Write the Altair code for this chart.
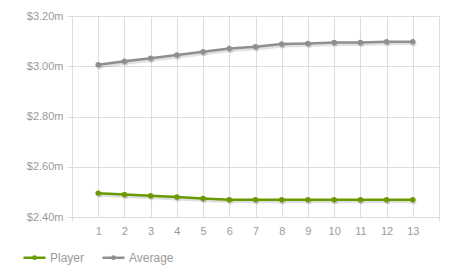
import altair as alt
import pandas as pd

rounds = list(range(1, 14))
player = [2.495, 2.490, 2.485, 2.480, 2.474, 2.469, 2.469, 2.469, 2.469, 2.469, 2.469, 2.469, 2.469]
average = [3.006, 3.020, 3.032, 3.045, 3.058, 3.071, 3.078, 3.089, 3.091, 3.095, 3.095, 3.098, 3.098]
series_names = ["Player", "Average"]
series_colors = ["#6a9a00", "#8f8f8f"]
x_ticks = list(range(0, 15))
y_ticks = [2.4, 2.6, 2.8, 3.0, 3.2]

rows = []
for name, vals in zip(series_names, [player, average]):
    for r, v in zip(rounds, vals):
        rows.append({"round": r, "value": v, "series": name})
df = pd.DataFrame(rows)

font = "Liberation Sans"
label_color = "#9a9a9a"
grid_color = "#dddddd"

x_enc = alt.X(
    "round:Q",
    scale=alt.Scale(domain=[0, 14], nice=False, zero=False),
    axis=alt.Axis(
        values=x_ticks,
        labelExpr="datum.value == 0 || datum.value == 14 ? '' : datum.label",
        title=None,
        grid=True,
        gridColor=grid_color,
        domainColor=grid_color,
        tickColor=grid_color,
        tickSize=4,
        tickOpacity={"expr": "datum.value == 0 || datum.value == 14 ? 1 : 0"},
        labelPadding=4,
        labelColor=label_color,
        labelFont=font,
        labelFontSize=11,
    ),
)
y_enc = alt.Y(
    "value:Q",
    scale=alt.Scale(domain=[2.4, 3.2], nice=False, zero=False),
    axis=alt.Axis(
        values=y_ticks,
        labelExpr="'$' + format(datum.value, '.2f') + 'm'",
        title=None,
        grid=True,
        gridColor=grid_color,
        domainColor=grid_color,
        tickColor=grid_color,
        tickSize=5,
        labelPadding=4,
        labelColor=label_color,
        labelFont=font,
        labelFontSize=11,
    ),
)

color_scale = alt.Scale(domain=series_names, range=series_colors)

base = alt.Chart(df)

shadow = base.mark_line(color="#000000", opacity=0.12, strokeWidth=3, xOffset=1, yOffset=2).encode(
    x=x_enc, y=y_enc, detail="series:N"
)
shadow_pts = base.mark_circle(color="#000000", opacity=0.12, size=30, xOffset=1, yOffset=2).encode(
    x=x_enc, y=y_enc
)
lines = base.mark_line(strokeWidth=2.5).encode(
    x=x_enc,
    y=y_enc,
    color=alt.Color(
        "series:N",
        scale=color_scale,
        sort=series_names,
        legend=alt.Legend(
            title=None,
            orient="none",
            legendX=-50,
            legendY=229,
            direction="horizontal",
            symbolType="M-1,0H1M-0.1,0a0.1,0.1 0 1,0 0.2,0a0.1,0.1 0 1,0 -0.2,0",
            symbolSize=484,
            symbolStrokeWidth=2.5,
            labelFont=font,
            labelFontSize=12,
            labelColor=label_color,
            labelOffset=3,
            columnPadding=12,
        ),
    ),
)
pts = base.mark_circle(size=30, opacity=1).encode(
    x=x_enc,
    y=y_enc,
    color=alt.Color("series:N", scale=color_scale, legend=None),
)

chart = (
    alt.layer(shadow, shadow_pts, lines, pts)
    .properties(
        width=367,
        height=201,
        autosize=alt.AutoSizeParams(type="none"),
        padding={"left": 72, "top": 16, "right": 15, "bottom": 62},
    )
    .configure_view(stroke=None)
    .configure(background="white")
)

chart.save("out.html", embed_options={"renderer": "svg", "actions": False})
